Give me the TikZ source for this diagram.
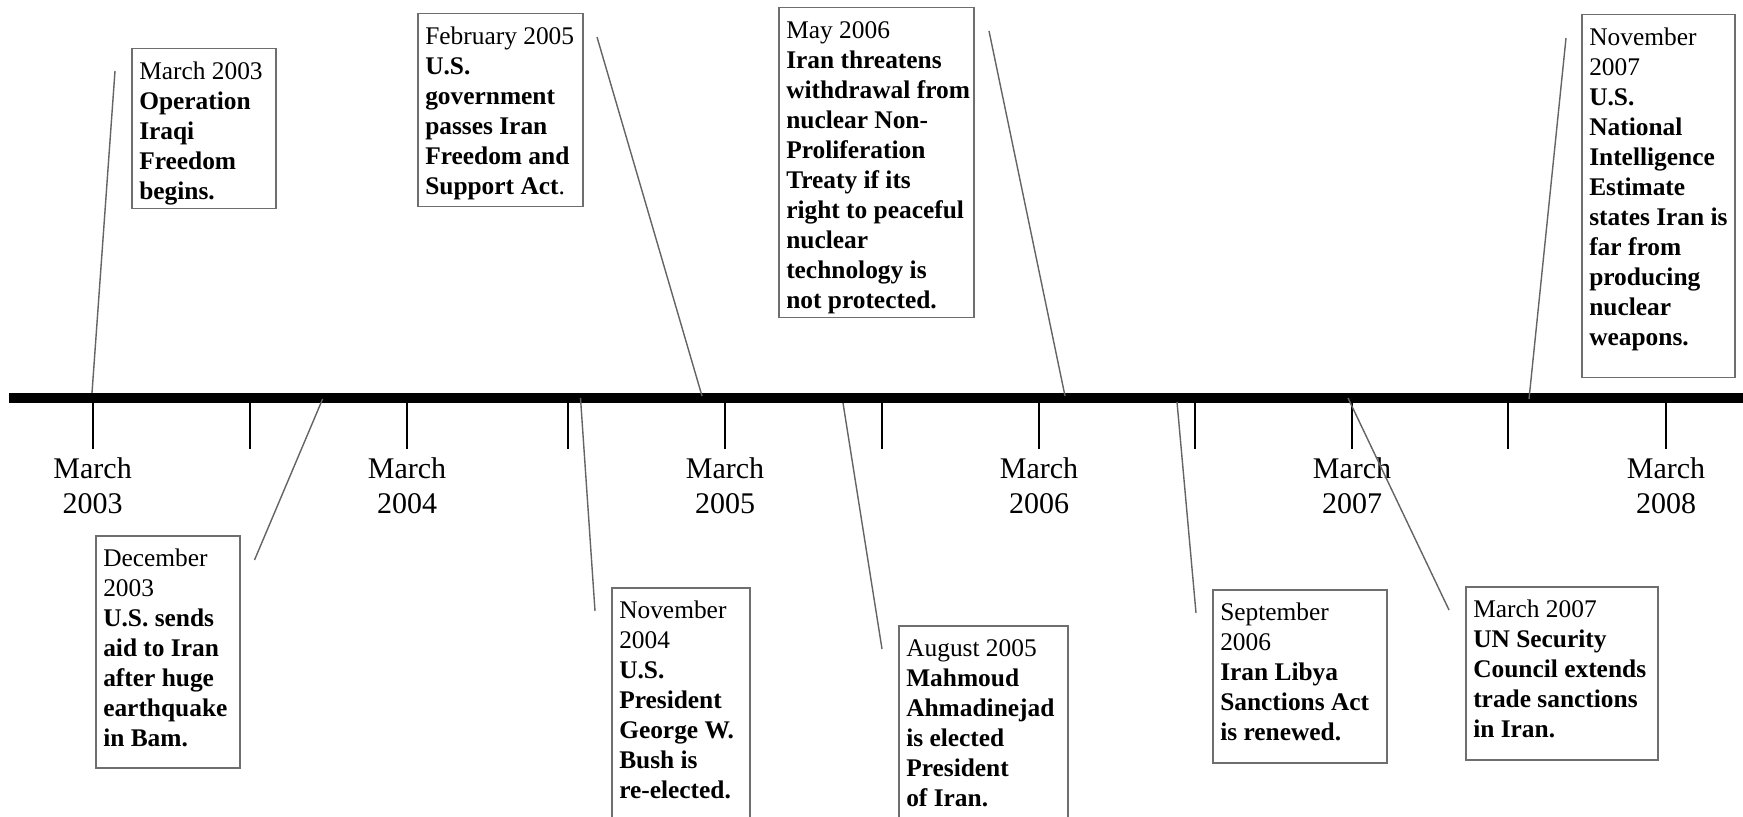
\documentclass[tikz,border=0pt]{standalone}
\usepackage{fontspec}
\setmainfont{Liberation Serif}
\definecolor{framegray}{RGB}{110,110,110}
\definecolor{leadgray}{RGB}{100,100,100}
\newcommand{\evfont}{\fontsize{12.7}{15}\selectfont}
\newcommand{\evtext}[3]{\parbox[c][#1][t]{#2}{\evfont\raggedright\leftskip=3.75pt\relax\rule{0pt}{15.5pt}#3}}
\tikzset{
  evbox/.style={draw=framegray, line width=0.75pt, inner sep=0pt, anchor=north west, fill=white},
  leader/.style={draw=leadgray, line width=0.7pt},
  tickmark/.style={line width=1pt},
  yearlab/.style={font=\fontsize{15}{17.5}\selectfont, align=center, inner sep=0pt},
}
\begin{document}
\begin{tikzpicture}[x=0.5pt,y=-0.5pt]
\useasboundingbox (0,0) rectangle (1743,817);
\fill[white] (0,0) rectangle (1743,817);

% main bar
\coordinate (barL) at (9,398);
\coordinate (barR) at (1760,398);
\draw[line width=5pt] (barL) -- (barR);

% ticks
\foreach \tx in {92.6,250,407,568,725,882,1039,1195,1352,1508,1666}
  \draw[tickmark] (\tx,403) -- (\tx,449);

% year labels
\node[yearlab] (y03) at (92.6,485.5) {March\\2003};
\node[yearlab] (y04) at (407,485.5) {March\\2004};
\node[yearlab] (y05) at (725,485.5) {March\\2005};
\node[yearlab] (y06) at (1039,485.5) {March\\2006};
\node[yearlab] (y07) at (1352,485.5) {March\\2007};
\node[yearlab] (y08) at (1666,485.5) {March\\2008};

% event boxes
\node[evbox] (m03) at (131,48) {\evtext{80pt}{72pt}{March 2003\\\textbf{Operation}\\\textbf{Iraqi}\\\textbf{Freedom}\\\textbf{begins.}}};
\node[evbox] (f05) at (417,13) {\evtext{96.5pt}{82.5pt}{February 2005\\\textbf{U.S.}\\\textbf{government}\\\textbf{passes Iran}\\\textbf{Freedom and}\\\textbf{Support Act}.}};
\node[evbox] (m06) at (778,7) {\evtext{155pt}{97.5pt}{May 2006\\\textbf{Iran threatens}\\\textbf{withdrawal from}\\\textbf{nuclear Non-}\\\textbf{Proliferation}\\\textbf{Treaty if its}\\\textbf{right to peaceful}\\\textbf{nuclear}\\\textbf{technology is}\\\textbf{not protected.}}};
\node[evbox] (n07) at (1581,14) {\evtext{181.5pt}{76.5pt}{November\\2007\\\textbf{U.S.}\\\textbf{National}\\\textbf{Intelligence}\\\textbf{Estimate}\\\textbf{states Iran is}\\\textbf{far from}\\\textbf{producing}\\\textbf{nuclear}\\\textbf{weapons.}}};
\node[evbox] (d03) at (95,535) {\evtext{116pt}{72pt}{December\\2003\\\textbf{U.S. sends}\\\textbf{aid to Iran}\\\textbf{after huge}\\\textbf{earthquake}\\\textbf{in Bam.}}};
\node[evbox] (n04) at (611,587) {\evtext{119pt}{69pt}{November\\2004\\\textbf{U.S.}\\\textbf{President}\\\textbf{George W.}\\\textbf{Bush is}\\\textbf{re-elected.}}};
\node[evbox] (a05) at (898,625) {\evtext{100pt}{84.5pt}{August 2005\\\textbf{Mahmoud}\\\textbf{Ahmadinejad}\\\textbf{is elected}\\\textbf{President}\\\textbf{of Iran.}}};
\node[evbox] (s06) at (1212,589) {\evtext{86.5pt}{87pt}{September\\2006\\\textbf{Iran Libya}\\\textbf{Sanctions Act}\\\textbf{is renewed.}}};
\node[evbox] (mr07) at (1465,586) {\evtext{86.5pt}{96pt}{March 2007\\\textbf{UN Security}\\\textbf{Council extends}\\\textbf{trade sanctions}\\\textbf{in Iran.}}};

% leader lines
\coordinate (m03a) at (115,71);    \coordinate (m03b) at (92,393);
\coordinate (d03a) at (254.5,560); \coordinate (d03b) at (322.6,399);
\coordinate (n04a) at (580.5,398); \coordinate (n04b) at (595,611);
\coordinate (f05a) at (597,37);    \coordinate (f05b) at (702,396);
\coordinate (a05a) at (843,403);   \coordinate (a05b) at (882,649);
\coordinate (m06a) at (989,31);    \coordinate (m06b) at (1065,396);
\coordinate (s06a) at (1177,402);  \coordinate (s06b) at (1196,613);
\coordinate (mr07a) at (1348,398); \coordinate (mr07b) at (1449,610);
\coordinate (n07a) at (1566,38);   \coordinate (n07b) at (1529,399);
\draw[leader] (m03a) -- (m03b);
\draw[leader] (d03a) -- (d03b);
\draw[leader] (n04a) -- (n04b);
\draw[leader] (f05a) -- (f05b);
\draw[leader] (a05a) -- (a05b);
\draw[leader] (m06a) -- (m06b);
\draw[leader] (s06a) -- (s06b);
\draw[leader] (mr07a) -- (mr07b);
\draw[leader] (n07a) -- (n07b);
\end{tikzpicture}
\end{document}
